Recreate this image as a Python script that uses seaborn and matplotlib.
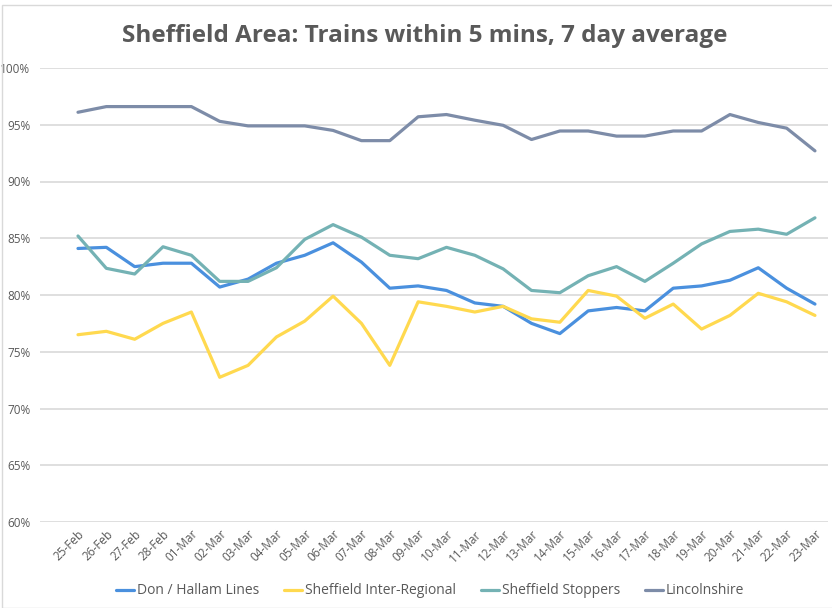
import pandas as pd
import numpy as np
import matplotlib
matplotlib.use("Agg")
import matplotlib.pyplot as plt
import seaborn as sns
from matplotlib.ticker import PercentFormatter
from matplotlib.patches import Rectangle

# %%
dates = ["25-Feb", "26-Feb", "27-Feb", "28-Feb", "01-Mar", "02-Mar", "03-Mar", "04-Mar",
         "05-Mar", "06-Mar", "07-Mar", "08-Mar", "09-Mar", "10-Mar", "11-Mar", "12-Mar",
         "13-Mar", "14-Mar", "15-Mar", "16-Mar", "17-Mar", "18-Mar", "19-Mar", "20-Mar",
         "21-Mar", "22-Mar", "23-Mar"]

don_hallam = [84.1, 84.2, 82.5, 82.8, 82.8, 80.7, 81.4, 82.8, 83.5, 84.6, 82.9, 80.6, 80.8, 80.4,
              79.3, 79.0, 77.5, 76.6, 78.6, 78.9, 78.6, 80.6, 80.8, 81.3, 82.4, 80.6, 79.2]
inter_regional = [76.5, 76.8, 76.1, 77.5, 78.5, 72.75, 73.8, 76.3, 77.7, 79.9, 77.5, 73.8, 79.4, 79.0,
                  78.5, 79.0, 77.9, 77.6, 80.4, 79.9, 77.95, 79.2, 77.0, 78.2, 80.15, 79.4, 78.2]
stoppers = [85.2, 82.35, 81.85, 84.25, 83.5, 81.2, 81.2, 82.4, 84.9, 86.2, 85.1, 83.5, 83.2, 84.2,
            83.5, 82.3, 80.4, 80.2, 81.7, 82.5, 81.2, 82.8, 84.5, 85.6, 85.8, 85.35, 86.8]
lincolnshire = [96.1, 96.6, 96.6, 96.6, 96.6, 95.3, 94.9, 94.9, 94.9, 94.5, 93.6, 93.6, 95.7, 95.9,
                95.4, 94.95, 93.7, 94.45, 94.45, 94.0, 94.0, 94.45, 94.45, 95.9, 95.2, 94.7, 92.7]

series = {
    "Don / Hallam Lines": don_hallam,
    "Sheffield Inter-Regional": inter_regional,
    "Sheffield Stoppers": stoppers,
    "Lincolnshire": lincolnshire,
}
colours = ["#4A90DE", "#FFD94F", "#74B2B4", "#7D8CA8"]

rows = []
for name, vals in series.items():
    for i, v in enumerate(vals):
        rows.append({"idx": i, "date": dates[i], "series": name, "value": v / 100})
df = pd.DataFrame(rows)

# %%
sns.set_theme(style="white")
plt.rcParams["font.family"] = ["Open Sans", "DejaVu Sans"]

fig = plt.figure(figsize=(8.32, 6.08), dpi=100)
ax = fig.add_axes([40 / 832, 1 - 522 / 608, 788 / 832, 454 / 608])

sns.lineplot(data=df, x="idx", y="value", hue="series", palette=colours,
             linewidth=2.3, ax=ax, legend=True)

ax.set_ylim(0.6, 1.0)
ax.set_xlim(-1.34, 26.46)
ax.set_yticks(np.arange(0.6, 1.001, 0.05))
ax.yaxis.set_major_formatter(PercentFormatter(1.0, decimals=0))
ax.set_xticks(range(len(dates)))
ax.set_xticklabels(dates, rotation=45, ha="right", rotation_mode="anchor")
ax.tick_params(axis="both", length=0, labelsize=8.5, colors="#595959")
ax.tick_params(axis="y", pad=7)
ax.tick_params(axis="x", pad=4)
ax.grid(axis="y", color="#D9D9D9", linewidth=1.2)
ax.set_axisbelow(True)
for s in ax.spines.values():
    s.set_visible(False)
ax.set_xlabel("")
ax.set_ylabel("")

handles, labels = ax.get_legend_handles_labels()
ax.legend(handles, labels, ncol=4, frameon=False, loc="center",
          bbox_to_anchor=(430 / 832, 1 - 591 / 608), bbox_transform=fig.transFigure,
          fontsize=10, handlelength=1.3, handletextpad=0.2, columnspacing=1.8,
          labelcolor="#595959")

fig.text(425 / 832, 1 - 36 / 608, "Sheffield Area: Trains within 5 mins, 7 day average",
         ha="center", va="center", fontsize=17.5, fontweight="bold", color="#595959")

fig.patches.append(Rectangle((2 / 832, 0), 1, 1 - 5 / 608, transform=fig.transFigure,
                             fill=False, edgecolor="#D9D9D9", linewidth=1))

fig.savefig("out.png", dpi=100, facecolor="white")
